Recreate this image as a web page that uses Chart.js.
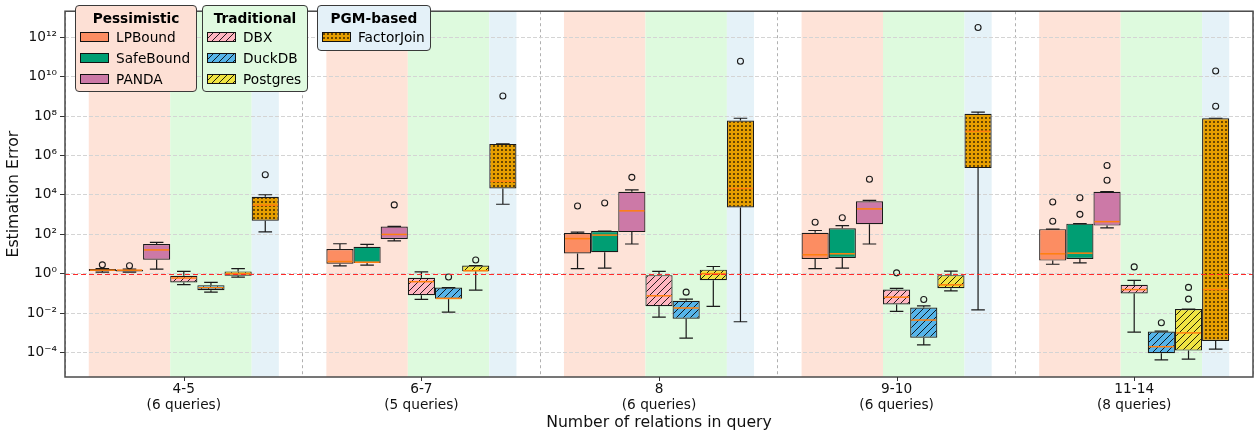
<!DOCTYPE html>
<html><head><meta charset="utf-8">
<script src="https://cdn.jsdelivr.net/npm/chart.js@4.4.0/dist/chart.umd.min.js"></script>
<style>
html,body{margin:0;padding:0;background:#fff;}
#wrap{position:relative;width:1257px;height:437px;}
#c{display:block;}
.leg{position:absolute;border:1px solid #3a3a3a;border-radius:4px;box-sizing:border-box;font-family:'DejaVu Sans',sans-serif;font-size:13.7px;color:#000;}
.leg .t{position:absolute;left:0;right:0;top:3px;text-align:center;font-weight:bold;line-height:18px;}
.leg .it{position:absolute;left:0;height:16px;line-height:16px;white-space:nowrap;}
.leg canvas{position:absolute;left:4px;top:3px;}
.leg .it span{position:absolute;left:40px;top:0;}
</style>
</head><body>
<div id="wrap">
<canvas id="c" width="1257" height="437"></canvas>
<div class="leg" style="left:75px;top:5px;width:122px;height:87px;background:#fde0d5;">
  <div class="t">Pessimistic</div>
  <div class="it" style="top:23px"><canvas width="29" height="10" data-s="0"></canvas><span>LPBound</span></div>
  <div class="it" style="top:44px"><canvas width="29" height="10" data-s="1"></canvas><span>SafeBound</span></div>
  <div class="it" style="top:65px"><canvas width="29" height="10" data-s="2"></canvas><span>PANDA</span></div>
</div>
<div class="leg" style="left:202px;top:5px;width:106px;height:87px;background:#e0fae0;">
  <div class="t">Traditional</div>
  <div class="it" style="top:23px"><canvas width="29" height="10" data-s="3"></canvas><span>DBX</span></div>
  <div class="it" style="top:44px"><canvas width="29" height="10" data-s="4"></canvas><span>DuckDB</span></div>
  <div class="it" style="top:65px"><canvas width="29" height="10" data-s="5"></canvas><span>Postgres</span></div>
</div>
<div class="leg" style="left:317px;top:5px;width:114px;height:46px;background:#e4f1f8;">
  <div class="t">PGM-based</div>
  <div class="it" style="top:23px"><canvas width="29" height="10" data-s="6"></canvas><span>FactorJoin</span></div>
</div>
</div>
<script>
// ---------- DATA ----------
const categories = [['4-5','(6 queries)'],['6-7','(5 queries)'],['8','(6 queries)'],['9-10','(6 queries)'],['11-14','(8 queries)']];
const yTickExponents = [-4,-2,0,2,4,6,8,10,12];
const seriesNames = ['LPBound','SafeBound','PANDA','DBX','DuckDB','Postgres','FactorJoin'];
// each box: [whiskerLow, q1, median, q3, whiskerHigh]
const lpbound    = [[1.2,1.35,1.5,1.7,1.8],[2.5,3.2,4.1,18,33],[1.8,10.6,60,115,129],[1.8,5.5,9.1,119,155],[3.0,4.6,10.2,182,182]];
const lpboundOut = [[2.8],[],[2750],[410],[457,4350]];
const safebound    = [[1.2,1.3,1.5,1.6,1.7],[2.7,3.5,3.8,23,31],[1.9,12.3,91,145,145],[1.9,6.2,10.2,204,275],[3.5,5.5,11,347,347]];
const safeboundOut = [[2.5],[],[3900],[690],[1030,7200]];
const panda    = [[1.7,5.1,16,32,39],[46,58,98,245,250],[32,129,1550,14500,18000],[32,324,1950,4700,5300],[211,275,437,14500,14500]];
const pandaOut = [[],[3100],[78000],[62000],[55000,310000]];
const dbx    = [[0.28,0.36,0.6,0.78,1.3],[0.049,0.081,0.39,0.61,1.23],[0.0062,0.022,0.075,0.84,1.29],[0.012,0.027,0.064,0.155,0.18],[0.00106,0.098,0.155,0.275,0.46]];
const dbxOut = [[],[],[],[1.1],[2.2]];
const duckdb    = [[0.115,0.145,0.195,0.26,0.36],[0.011,0.053,0.055,0.195,0.195],[0.00053,0.0051,0.018,0.042,0.051],[0.00024,0.00055,0.0044,0.019,0.023],[0.000042,0.000091,0.000195,0.00115,0.0012]];
const duckdbOut = [[],[0.67],[0.115],[0.049],[0.0032]];
const postgres    = [[0.67,0.78,1.0,1.3,1.8],[0.145,1.33,1.4,2.6,2.6],[0.022,0.46,1.0,1.6,2.3],[0.133,0.18,0.27,0.84,1.33],[0.000046,0.000123,0.00098,0.016,0.016]];
const postgresOut = [[],[4.9],[],[],[0.051,0.2]];
const factorjoin    = [[133,490,3000,8100,10200],[3350,21000,49000,3.9e6,3.9e6],[0.0036,2300,21000,6e7,7.8e7],[0.0145,2.3e5,1.7e7,1.33e8,1.6e8],[0.000145,0.00038,0.155,7.8e7,7.8e7]];
const factorjoinOut = [[1.05e5],[1.06e9],[6.2e10],[3.2e12],[3.2e8,1.95e10]];

// ---------- STYLE ----------
const boxes = [lpbound,safebound,panda,dbx,duckdb,postgres,factorjoin];
const outliers = [lpboundOut,safeboundOut,pandaOut,dbxOut,duckdbOut,postgresOut,factorjoinOut];
const colors = ['#fc8d62','#009e73','#cc79a7','#ffb6c1','#56b4e9','#f0e442','#e69f00'];
const fills = ['solid','solid','solid','hatch','hatch','hatch','dots'];
const FONT = "'DejaVu Sans', sans-serif";

function makeFill(ctx, i){
  const col = colors[i];
  if (fills[i]==='solid') return col;
  const t = document.createElement('canvas');
  if (fills[i]==='hatch'){
    const s=7; t.width=t.height=s;
    const x=t.getContext('2d');
    x.fillStyle=col; x.fillRect(0,0,s,s);
    x.strokeStyle='rgba(0,0,0,0.85)'; x.lineWidth=1;
    x.beginPath();
    x.moveTo(0,s); x.lineTo(s,0);
    x.moveTo(-s/2,s/2); x.lineTo(s/2,-s/2);
    x.moveTo(s/2,s*1.5); x.lineTo(s*1.5,s/2);
    x.stroke();
  } else {
    const s=4; t.width=t.height=s;
    const x=t.getContext('2d');
    x.fillStyle=col; x.fillRect(0,0,s,s);
    x.fillStyle='rgba(20,10,0,0.85)';
    x.beginPath(); x.arc(2,2,0.95,0,Math.PI*2); x.fill();
  }
  return ctx.createPattern(t,'repeat');
}

// legend swatches
document.querySelectorAll('.leg canvas').forEach(cv=>{
  const i=+cv.dataset.s; const x=cv.getContext('2d');
  x.fillStyle=makeFill(x,i); x.fillRect(0,0,29,10);
  x.strokeStyle='#111'; x.lineWidth=1; x.strokeRect(0.5,0.5,28,9);
});

const sup = {'0':'⁰','1':'¹','2':'²','3':'³','4':'⁴','5':'⁵','6':'⁶','7':'⁷','8':'⁸','9':'⁹','-':'⁻'};
const ctx = document.getElementById('c').getContext('2d');

const datasets = boxes.map((b,i)=>({
  label: seriesNames[i],
  data: b.map(v=>[v[1],v[3]]),
  backgroundColor: makeFill(ctx,i),
  borderColor:'#1a1a1a',
  borderWidth:1.2,
  borderSkipped:false,
  categoryPercentage:0.8,
  barPercentage:1.0
}));

const boxPlugin = {
  id:'boxes',
  beforeDraw(chart){
    const c=chart.ctx, a=chart.chartArea;
    const bands=[[0,2,'#fee3d8'],[3,5,'#defade'],[6,6,'#e5f2f8']];
    c.save();
    categories.forEach((_,k)=>{
      bands.forEach(([i0,i1,col])=>{
        const e0=chart.getDatasetMeta(i0).data[k], e1=chart.getDatasetMeta(i1).data[k];
        const xl=e0.x-e0.width/2, xr=e1.x+e1.width/2;
        c.fillStyle=col; c.fillRect(xl,a.top,xr-xl,a.bottom-a.top);
      });
    });
    c.restore();
  },
  afterDatasetsDraw(chart){
    const c=chart.ctx, a=chart.chartArea, y=chart.scales.y;
    c.save();
    boxes.forEach((b,i)=>{
      const meta=chart.getDatasetMeta(i);
      b.forEach((v,k)=>{
        const e=meta.data[k]; const cx=e.x, w=e.width;
        const [lo,q1,med,q3,hi]=v.map(t=>y.getPixelForValue(t));
        c.strokeStyle='#1a1a1a'; c.lineWidth=1.2; c.setLineDash([]);
        c.beginPath();
        c.moveTo(cx,q3); c.lineTo(cx,hi);
        c.moveTo(cx-w/4,hi); c.lineTo(cx+w/4,hi);
        c.moveTo(cx,q1); c.lineTo(cx,lo);
        c.moveTo(cx-w/4,lo); c.lineTo(cx+w/4,lo);
        c.stroke();
        c.strokeStyle='#ff7f0e'; c.lineWidth=1.5;
        c.beginPath(); c.moveTo(cx-w/2+1,med); c.lineTo(cx+w/2-1,med); c.stroke();
        c.strokeStyle='#1a1a1a'; c.lineWidth=1.1;
        outliers[i][k].forEach(o=>{
          c.beginPath(); c.arc(cx,y.getPixelForValue(o),3,0,Math.PI*2); c.stroke();
        });
      });
    });
    const y1=Math.round(y.getPixelForValue(1))+0.5;
    c.strokeStyle='#ff2a2a'; c.lineWidth=1.2; c.setLineDash([5,3]);
    c.beginPath(); c.moveTo(a.left,y1); c.lineTo(a.right,y1); c.stroke();
    c.restore();
  },
  afterDraw(chart){
    const c=chart.ctx, a=chart.chartArea, x=chart.scales.x;
    c.save();
    c.strokeStyle='#4a4a4a'; c.lineWidth=1.5; c.setLineDash([]);
    c.strokeRect(a.left,a.top,a.right-a.left,a.bottom-a.top);
    c.strokeStyle='#333'; c.lineWidth=1;
    categories.forEach((_,k)=>{
      const px=Math.round(x.getPixelForValue(k))+0.5;
      c.beginPath(); c.moveTo(px,a.bottom); c.lineTo(px,a.bottom+4); c.stroke();
    });
    c.restore();
  }
};

new Chart(ctx,{
  type:'bar',
  data:{labels:categories,datasets},
  options:{
    responsive:false,
    animation:false,
    devicePixelRatio:1,
    layout:{padding:{top:5,right:4,left:0,bottom:0}},
    plugins:{legend:{display:false},tooltip:{enabled:false}},
    scales:{
      x:{
        type:'category',
        offset:true,
        grid:{offset:true,color:'#b0b0b0',lineWidth:1,drawTicks:false},
        border:{display:false,dash:[3,3]},
        ticks:{color:'#111',font:{family:FONT,size:13.7},padding:4,maxRotation:0,autoSkip:false},
        title:{display:true,text:'Number of relations in query',color:'#111',font:{family:FONT,size:15.7},padding:{top:0,bottom:5}},
        afterFit(s){ s.height=60; }
      },
      y:{
        type:'logarithmic',
        min:Math.pow(10,-5.25),
        max:Math.pow(10,13.33),
        afterBuildTicks(s){ s.ticks = yTickExponents.map(e=>({value:Math.pow(10,e)})); },
        grid:{color:'#d4d4d4',lineWidth:1,drawTicks:true,tickLength:5,tickColor:'#333',tickBorderDash:[]},
        border:{display:false,dash:[4,2]},
        ticks:{color:'#111',font:{family:FONT,size:13.7},padding:3,autoSkip:false,
          callback(v){ const e=Math.round(Math.log10(v)); return '10'+String(e).split('').map(ch=>sup[ch]).join(''); }},
        title:{display:true,text:'Estimation Error',color:'#111',font:{family:FONT,size:15.7},padding:{top:5,bottom:0}},
        afterFit(s){ s.width=65; }
      }
    }
  },
  plugins:[boxPlugin]
});
</script>
</body></html>
